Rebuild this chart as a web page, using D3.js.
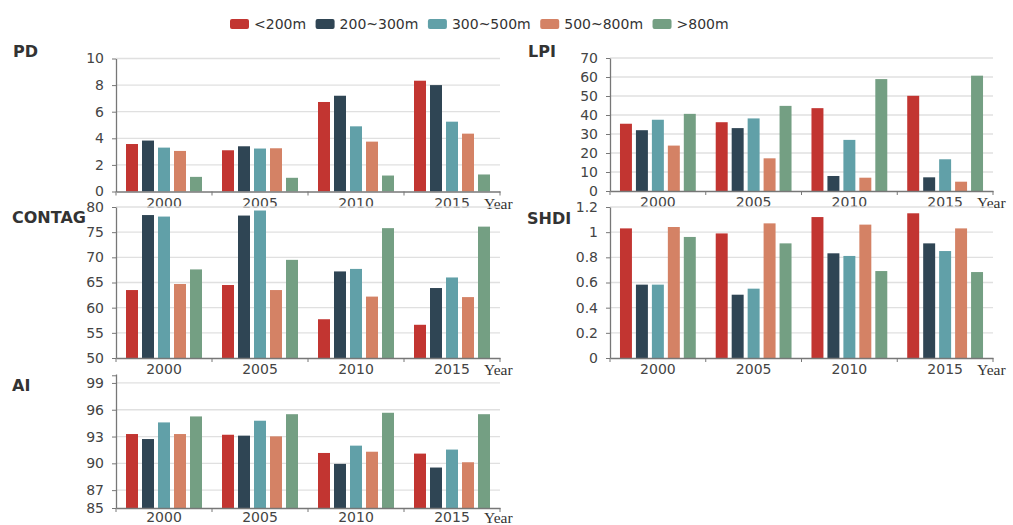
<!DOCTYPE html>
<html><head><meta charset="utf-8">
<script src="https://cdn.jsdelivr.net/npm/d3@7"></script>
<style>
body{margin:0;background:#fff;}
svg{display:block;font-family:"DejaVu Sans",sans-serif;}
</style></head>
<body>
<svg id="c" width="1013" height="525"></svg>
<script>
const years = ["2000","2005","2010","2015"];
const seriesNames = ["<200m","200~300m","300~500m","500~800m",">800m"];
const colors = ["#c23531","#2f4554","#61a0a8","#d48265","#749f83"];

// values per series: [2000,2005,2010,2015]
const PD = [
  [3.57,3.1,6.73,8.33],
  [3.83,3.4,7.2,8.0],
  [3.3,3.23,4.9,5.25],
  [3.05,3.25,3.75,4.35],
  [1.1,1.03,1.2,1.28]
];
const LPI = [
  [35.4,36.2,43.6,50.1],
  [32.0,33.1,7.9,7.2],
  [37.5,38.2,26.9,16.7],
  [23.9,17.2,7.0,4.9],
  [40.6,44.8,58.9,60.7]
];
const CONTAG = [
  [63.5,64.5,57.7,56.6],
  [78.4,78.3,67.2,63.9],
  [78.1,79.3,67.7,66.0],
  [64.7,63.5,62.2,62.1],
  [67.6,69.5,75.8,76.1]
];
const SHDI = [
  [1.03,0.99,1.12,1.15],
  [0.583,0.503,0.832,0.911],
  [0.583,0.551,0.811,0.85],
  [1.041,1.07,1.06,1.03],
  [0.962,0.911,0.691,0.683]
];
const AI = [
  [93.28,93.2,91.16,91.09],
  [92.72,93.1,89.94,89.53],
  [94.58,94.77,91.98,91.54],
  [93.28,93.02,91.3,90.12],
  [95.25,95.5,95.66,95.5]
];

const pdTicks = [0,2,4,6,8,10];
const lpiTicks = [0,10,20,30,40,50,60,70];
const contagTicks = [50,55,60,65,70,75,80];
const shdiTicks = [0,0.2,0.4,0.6,0.8,1,1.2];
const aiTicks = [85,87,90,93,96,99];

const panels = [
  {name:"PD", data:PD, domain:[0,10], ticks:pdTicks, left:116, right:500, top:58.5, bottom:191.5, tx:13, ty:57, pad:6.5},
  {name:"LPI", data:LPI, domain:[0,70], ticks:lpiTicks, left:610, right:993, top:58, bottom:191, tx:528, ty:57, pad:6.5},
  {name:"CONTAG", data:CONTAG, domain:[50,80], ticks:contagTicks, left:116, right:500, top:207, bottom:358, tx:12, ty:223, pad:6.5},
  {name:"SHDI", data:SHDI, domain:[0,1.2], ticks:shdiTicks, left:610, right:993, top:207, bottom:358, tx:527, ty:224, pad:6.5},
  {name:"AI", data:AI, domain:[85,100], ticks:aiTicks, left:116, right:500, top:374, bottom:508, tx:12, ty:391, pad:4.5}
];

const svg = d3.select("#c");

// legend
const leg = svg.append("g");
let lx = 230;
seriesNames.forEach((n,i)=>{
  leg.append("rect").attr("x",lx).attr("y",19).attr("width",19).attr("height",10).attr("rx",2).attr("fill",colors[i]);
  const t = leg.append("text").attr("x",lx+24).attr("y",24).attr("dy","0.36em")
    .attr("font-size",14).attr("fill","#333").text(n);
  lx += 24 + t.node().getComputedTextLength() + 9.5;
});

panels.forEach(p=>{
  const g = svg.append("g");
  const x = d3.scaleBand().domain(years).range([p.left,p.right]).padding(0);
  const xs = d3.scaleBand().domain(d3.range(seriesNames.length))
    .range([x.bandwidth()*10/96, x.bandwidth()*86/96]).paddingInner(0.25).paddingOuter(0);
  const y = d3.scaleLinear().domain(p.domain).range([p.bottom,p.top]);

  // grid
  const gridVals = p.ticks.filter(v=>v!==p.domain[0]);
  g.append("g").selectAll("line").data(gridVals).join("line")
    .attr("x1",p.left).attr("x2",p.right)
    .attr("y1",d=>y(d)).attr("y2",d=>y(d))
    .attr("stroke","#e0e0e0").attr("stroke-width",1.3);

  // bars
  p.data.forEach((vals,si)=>{
    g.append("g").selectAll("rect").data(vals).join("rect")
      .attr("x",(d,i)=>x(years[i])+xs(si))
      .attr("width",xs.bandwidth())
      .attr("y",d=>y(d))
      .attr("height",d=>y(p.domain[0])-y(d))
      .attr("fill",colors[si]);
  });

  // y axis
  const ya = g.append("g").attr("transform",`translate(${p.left},0)`)
    .call(d3.axisLeft(y).tickValues(p.ticks).tickFormat(d=>String(d)).tickSize(4).tickPadding(8).tickSizeOuter(0));
  ya.select(".domain").attr("stroke","#777").attr("stroke-width",1.3);
  ya.selectAll(".tick line").attr("stroke","#777");
  ya.selectAll("text").attr("font-size",14).attr("fill","#444").attr("font-family","DejaVu Sans, sans-serif");
  if(p.name==="AI"){
    ya.append("line").attr("x1",-4).attr("x2",0).attr("y1",y(99.8)).attr("y2",y(99.8)).attr("stroke","#777");
  }

  // x axis
  const xa = g.append("g").attr("transform",`translate(0,${p.bottom})`)
    .call(d3.axisBottom(x).tickSize(0).tickPadding(p.pad).tickSizeOuter(0));
  xa.select(".domain").attr("stroke","#777").attr("stroke-width",1.3);
  xa.selectAll("text").attr("font-size",14).attr("fill","#444").attr("font-family","DejaVu Sans, sans-serif");
  const bounds = years.map(yv=>x(yv)).concat([x(years[years.length-1])+x.bandwidth()]);
  xa.append("g").selectAll("line").data(bounds).join("line")
    .attr("x1",d=>d).attr("x2",d=>d).attr("y1",0).attr("y2",4).attr("stroke","#777");
  xa.append("text").attr("x",p.right-16).attr("y",p.pad+10.5).attr("fill","#333")
    .attr("font-family","Liberation Serif, serif").attr("font-size",15.5).attr("text-anchor","start")
    .text("Year");

  // title
  g.append("text").attr("x",p.tx).attr("y",p.ty).attr("font-weight","bold")
    .attr("font-size",16).attr("fill","#333").text(p.name);
});
</script>
</body></html>
